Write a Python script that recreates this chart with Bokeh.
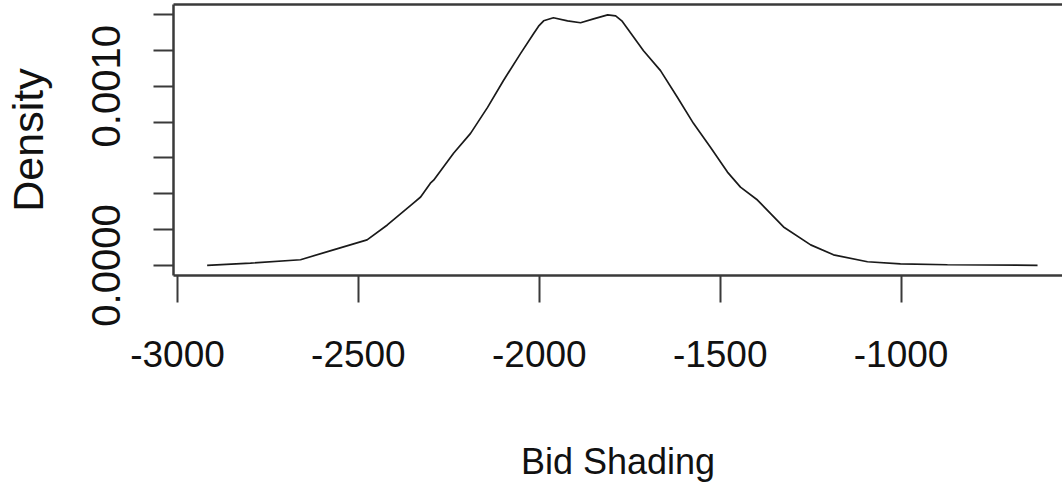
from bokeh.plotting import figure
from bokeh.models import Range1d, FixedTicker, LinearAxis
from bokeh.embed import file_html
from bokeh.resources import INLINE

# Data
bid_shading = [-2918, -2798, -2660, -2569, -2476, -2420, -2348, -2328, -2301, -2292,
               -2237, -2190, -2143, -2099, -2052, -2016, -2002, -1988, -1961, -1922, -1886,
               -1850, -1811, -1789, -1772, -1756, -1712, -1665, -1618, -1574, -1527, -1480,
               -1444, -1397, -1325, -1250, -1187, -1093, -1002, -872, -623]
density = [0.000001, 0.000013, 0.000032, 0.000087, 0.000143, 0.000226, 0.000348, 0.000382, 0.000459, 0.000476,
           0.000626, 0.000737, 0.000882, 0.001032, 0.001182, 0.001293, 0.001335, 0.001365, 0.001382, 0.001365, 0.001354,
           0.001376, 0.001398, 0.001393, 0.001365, 0.001321, 0.001198, 0.001087, 0.000937, 0.000793, 0.000659, 0.000521,
           0.000437, 0.000365, 0.000215, 0.000115, 0.0000594, 0.0000206, 0.0000094, 0.0000039, 0.000001]

x_ticks = [-3000, -2500, -2000, -1500, -1000]
x_tick_labels = ["-3000", "-2500", "-2000", "-1500", "-1000"]
y_ticks = [0.0, 0.0002, 0.0004, 0.0006, 0.0008, 0.0010, 0.0012, 0.0014]
y_tick_labels = {0.0: "0.0000", 0.001: "0.0010"}

BOX = "#3a3a3a"
SANS = "'Liberation Sans', Arial, sans-serif"

p = figure(width=1062, height=488, output_backend="svg", toolbar_location=None,
           x_range=Range1d(-3011, -554), y_range=Range1d(-0.000056, 0.001456),
           min_border_left=173, min_border_right=0, min_border_top=4, min_border_bottom=213,
           x_axis_location=None, y_axis_location=None)
p.outline_line_color = None
p.xgrid.visible = False
p.ygrid.visible = False
p.background_fill_color = "white"
p.border_fill_color = "white"

p.line(bid_shading, density, line_color="#1a1a1a", line_width=1.7)

xaxis = LinearAxis(ticker=FixedTicker(ticks=x_ticks, minor_ticks=[]))
xaxis.major_label_overrides = dict(zip(x_ticks, x_tick_labels))
xaxis.axis_label = "Bid Shading"
xaxis.axis_line_color = BOX
xaxis.axis_line_width = 2.5
xaxis.major_tick_line_color = BOX
xaxis.major_tick_line_width = 2
xaxis.major_tick_in = 0
xaxis.major_tick_out = 27
xaxis.minor_tick_line_color = None
xaxis.major_label_text_font = SANS
xaxis.major_label_text_font_size = "37px"
xaxis.major_label_text_color = "#111111"
xaxis.major_label_standoff = 38
xaxis.axis_label_text_font = SANS
xaxis.axis_label_text_font_size = "36px"
xaxis.axis_label_text_font_style = "normal"
xaxis.axis_label_text_color = "#111111"
xaxis.axis_label_standoff = 71
p.add_layout(xaxis, "below")

yaxis = LinearAxis(ticker=FixedTicker(ticks=y_ticks, minor_ticks=[]))
yaxis.major_label_overrides = {t: y_tick_labels.get(round(t, 4), "") for t in y_ticks}
yaxis.axis_label = "Density"
yaxis.axis_line_color = BOX
yaxis.axis_line_width = 2.5
yaxis.major_tick_line_color = BOX
yaxis.major_tick_line_width = 2
yaxis.major_tick_in = 0
yaxis.major_tick_out = 20
yaxis.minor_tick_line_color = None
yaxis.major_label_orientation = "vertical"
yaxis.major_label_text_font = SANS
yaxis.major_label_text_font_size = "40px"
yaxis.major_label_text_color = "#111111"
yaxis.major_label_standoff = 33
yaxis.axis_label_text_font = SANS
yaxis.axis_label_text_font_size = "43px"
yaxis.axis_label_text_font_style = "normal"
yaxis.axis_label_text_color = "#111111"
yaxis.axis_label_standoff = 38
p.add_layout(yaxis, "left")

top = LinearAxis(ticker=FixedTicker(ticks=[], minor_ticks=[]))
top.axis_line_color = BOX
top.axis_line_width = 2.5
top.major_tick_out = 0
top.major_tick_in = 0
top.major_label_text_font_size = "0px"
top.major_label_standoff = 0
p.add_layout(top, "above")

open("out.html", "w").write(file_html(p, INLINE))
